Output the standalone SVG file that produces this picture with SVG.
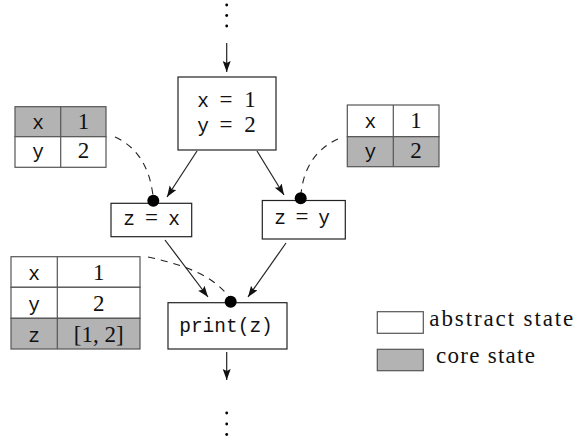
<svg xmlns="http://www.w3.org/2000/svg" width="578" height="442" viewBox="0 0 578 442">
<style>
.box{fill:#fff;stroke:#222;stroke-width:1.2}
.cell{fill:#fff;stroke:#555;stroke-width:1.2}
.core{fill:#b3b3b3;stroke:#555;stroke-width:1.2}
.sep{stroke:#555;stroke-width:1.2}
.tt{font-family:"Liberation Mono","DejaVu Sans Mono",monospace;font-size:19.5px;fill:#111}
.rm{font-family:"Liberation Serif","DejaVu Serif",serif;font-size:23px;fill:#111}
.c{text-anchor:middle}
.arr{stroke:#222;stroke-width:1.2;fill:none;marker-end:url(#ah)}
.dash{stroke:#222;stroke-width:1.1;fill:none;stroke-dasharray:7,6}
.dot{fill:#000}
</style>
<defs>
<marker id="ah" markerUnits="userSpaceOnUse" markerWidth="12" markerHeight="10" refX="11" refY="4" orient="auto">
<path d="M0,0 L11,4 L0,8 L2,4 z" fill="#111"/>
</marker>
</defs>
<g id="connectors">
<line class="arr" x1="226.7" y1="43" x2="226.7" y2="72"/>
<line class="arr" x1="197" y1="151" x2="167" y2="197"/>
<line class="arr" x1="257" y1="151" x2="284" y2="195"/>
<line class="arr" x1="165" y1="240" x2="208" y2="297"/>
<line class="arr" x1="286" y1="243" x2="248" y2="297"/>
<line class="arr" x1="226.7" y1="352" x2="226.7" y2="380"/>
<path class="dash" d="M115,137 Q148,152 153,196"/>
<path class="dash" d="M338,139 Q305,154 301,194"/>
<path class="dash" d="M148,257 C190,266 215,278 229,297"/>
</g>
<g id="dots-top">
<circle class="dot" cx="226.7" cy="5" r="1.4"/>
<circle class="dot" cx="226.7" cy="15.5" r="1.4"/>
<circle class="dot" cx="226.7" cy="26" r="1.4"/>
</g>
<g id="dots-bottom">
<circle class="dot" cx="226.7" cy="413" r="1.4"/>
<circle class="dot" cx="226.7" cy="424" r="1.4"/>
<circle class="dot" cx="226.7" cy="434.5" r="1.4"/>
</g>
<g id="state-top">
<rect class="box" x="178" y="77" width="98" height="73"/>
<text class="c"><tspan class="tt" x="203" y="107">x</tspan><tspan class="rm" x="226" y="107">=</tspan><tspan class="rm" x="250" y="107">1</tspan></text>
<text class="c"><tspan class="tt" x="203" y="132">y</tspan><tspan class="rm" x="226" y="132">=</tspan><tspan class="rm" x="250" y="132">2</tspan></text>
</g>
<g id="table-left">
<rect class="core" x="15" y="106.7" width="91" height="30"/>
<rect class="cell" x="15" y="136.7" width="91" height="30.6"/>
<line class="sep" x1="60.7" y1="106.7" x2="60.7" y2="167.3"/>
<text class="tt c" x="38" y="128.5">x</text>
<text class="rm c" x="83.5" y="128.5">1</text>
<text class="tt c" x="38" y="158">y</text>
<text class="rm c" x="83.5" y="158">2</text>
</g>
<g id="table-right">
<rect class="cell" x="347.3" y="105" width="91.7" height="31.7"/>
<rect class="core" x="347.3" y="136.7" width="91.7" height="30"/>
<line class="sep" x1="393.3" y1="105" x2="393.3" y2="166.7"/>
<text class="tt c" x="370.3" y="128">x</text>
<text class="rm c" x="416" y="128">1</text>
<text class="tt c" x="370.3" y="158">y</text>
<text class="rm c" x="416" y="158">2</text>
</g>
<g id="node-zx">
<rect class="box" x="111" y="203.3" width="80.7" height="33.4"/>
<circle class="dot" cx="153.3" cy="200.7" r="6"/>
<text class="c"><tspan class="tt" x="129" y="225">z</tspan><tspan class="rm" x="151.5" y="225">=</tspan><tspan class="tt" x="174" y="225">x</tspan></text>
</g>
<g id="node-zy">
<rect class="box" x="262.3" y="200.5" width="83" height="38.5"/>
<circle class="dot" cx="300.7" cy="198.3" r="6"/>
<text class="c"><tspan class="tt" x="280" y="224">z</tspan><tspan class="rm" x="302" y="224">=</tspan><tspan class="tt" x="324" y="224">y</tspan></text>
</g>
<g id="table-bottom">
<rect class="cell" x="11" y="256.7" width="129" height="30.6"/>
<rect class="cell" x="11" y="287.3" width="129" height="31"/>
<rect class="core" x="11" y="318.3" width="129" height="30.7"/>
<line class="sep" x1="57.3" y1="256.7" x2="57.3" y2="349"/>
<text class="tt c" x="34" y="280">x</text>
<text class="rm c" x="98.7" y="280">1</text>
<text class="tt c" x="34" y="310.5">y</text>
<text class="rm c" x="98.7" y="310.5">2</text>
<text class="tt c" x="34" y="341.5">z</text>
<text class="rm c" x="98.7" y="341.5">[1, 2]</text>
</g>
<g id="node-print">
<rect class="box" x="168" y="302.7" width="119" height="46.3"/>
<circle class="dot" cx="230.7" cy="301.7" r="6"/>
<text class="tt c" x="226" y="332">print(z)</text>
</g>
<g id="legend">
<rect class="cell" x="377.3" y="311.7" width="46" height="21.6"/>
<rect class="core" x="377.3" y="349.3" width="46" height="21.4"/>
<text class="rm" x="429.3" y="326" textLength="144" lengthAdjust="spacing">abstract state</text>
<text class="rm" x="436" y="363" textLength="99" lengthAdjust="spacing">core state</text>
</g>
</svg>
